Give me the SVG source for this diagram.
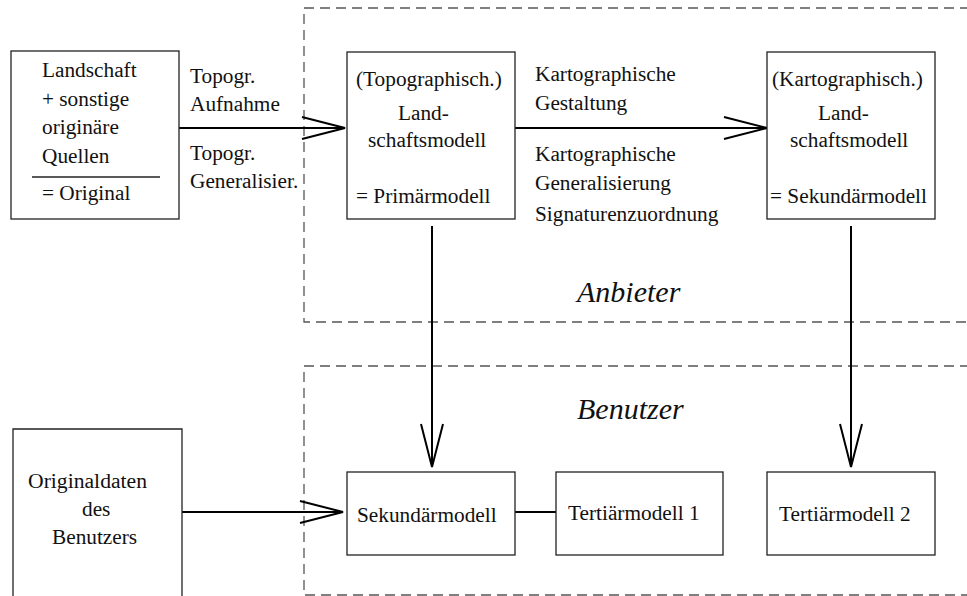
<svg xmlns="http://www.w3.org/2000/svg" width="967" height="596" viewBox="0 0 967 596">
  <style>
    text { font-size: 21.3px; fill: #111; }
    .area { font-style: italic; font-size: 30px; }
    .box { fill: #fff; stroke: #222; stroke-width: 1.3; }
    .zone { fill: none; stroke: #555; stroke-width: 1.3; stroke-dasharray: 10 6; }
    .conn { fill: none; stroke: #000; stroke-width: 2; }
  </style>
  <defs>
    <marker id="open" markerUnits="userSpaceOnUse" viewBox="-46 -14 50 28" markerWidth="50" markerHeight="28" refX="0" refY="0" orient="auto">
      <path d="M-43,-11 L0,0 L-43,11" fill="none" stroke="#000" stroke-width="2"/>
    </marker>
  </defs>

  <rect width="967" height="596" fill="#fff"/>

  <g font-family="'Liberation Serif', 'DejaVu Serif', serif">
  <!-- Zones: provider (top) and user (bottom) -->
  <g id="zone-anbieter">
    <path class="zone" d="M970,8 H304 V322 H970"/>
    <text class="area" x="577" y="302">Anbieter</text>
  </g>
  <g id="zone-benutzer">
    <path class="zone" d="M970,366 H304 V595 H970"/>
    <text class="area" x="577" y="419">Benutzer</text>
  </g>

  <!-- Connectors -->
  <g id="connectors">
    <line class="conn" x1="179" y1="128" x2="345" y2="128" marker-end="url(#open)"/>
    <line class="conn" x1="515" y1="128" x2="767" y2="128" marker-end="url(#open)"/>
    <line class="conn" x1="432" y1="226" x2="432" y2="467" marker-end="url(#open)"/>
    <line class="conn" x1="851" y1="226" x2="851" y2="467" marker-end="url(#open)"/>
    <line class="conn" x1="182" y1="512" x2="343" y2="512" marker-end="url(#open)"/>
    <line class="conn" x1="515" y1="512" x2="556" y2="512"/>
    <g id="label-topogr">
      <text x="190" y="83">Topogr.</text>
      <text x="190" y="111">Aufnahme</text>
      <text x="190" y="160">Topogr.</text>
      <text x="190" y="188">Generalisier.</text>
    </g>
    <g id="label-karto">
      <text x="535" y="81">Kartographische</text>
      <text x="535" y="110">Gestaltung</text>
      <text x="535" y="161">Kartographische</text>
      <text x="535" y="190">Generalisierung</text>
      <text x="535" y="221">Signaturenzuordnung</text>
    </g>
  </g>

  <!-- Nodes -->
  <g id="original">
    <rect class="box" x="11" y="51" width="168" height="168"/>
    <text x="42" y="77">Landschaft</text>
    <text x="42" y="106">+ sonstige</text>
    <text x="42" y="134">originäre</text>
    <text x="42" y="163">Quellen</text>
    <line x1="32" y1="177" x2="160" y2="177" stroke="#222" stroke-width="1.3"/>
    <text x="42" y="200">= Original</text>
  </g>

  <g id="primaermodell">
    <rect class="box" x="347" y="52" width="168" height="167"/>
    <text x="356" y="86">(Topographisch.)</text>
    <text x="398" y="120">Land-</text>
    <text x="368" y="147">schaftsmodell</text>
    <text x="356" y="203">= Primärmodell</text>
  </g>

  <g id="sekundaermodell-anbieter">
    <rect class="box" x="767" y="52" width="168" height="167"/>
    <text x="772" y="86">(Kartographisch.)</text>
    <text x="818" y="120">Land-</text>
    <text x="790" y="147">schaftsmodell</text>
    <text x="770" y="203">= Sekundärmodell</text>
  </g>

  <g id="originaldaten">
    <path class="box" d="M13,600 V429 H182 V600"/>
    <text x="28" y="488" textLength="119" lengthAdjust="spacingAndGlyphs">Originaldaten</text>
    <text x="82" y="516">des</text>
    <text x="52" y="544">Benutzers</text>
  </g>

  <g id="sekundaermodell">
    <rect class="box" x="347" y="472" width="168" height="83"/>
    <text x="357" y="522">Sekundärmodell</text>
  </g>

  <g id="tertiaermodell-1">
    <rect class="box" x="556" y="472" width="167" height="83"/>
    <text x="568" y="520">Tertiärmodell 1</text>
  </g>

  <g id="tertiaermodell-2">
    <rect class="box" x="767" y="472" width="168" height="83"/>
    <text x="779" y="521">Tertiärmodell 2</text>
  </g>
  </g>
</svg>
